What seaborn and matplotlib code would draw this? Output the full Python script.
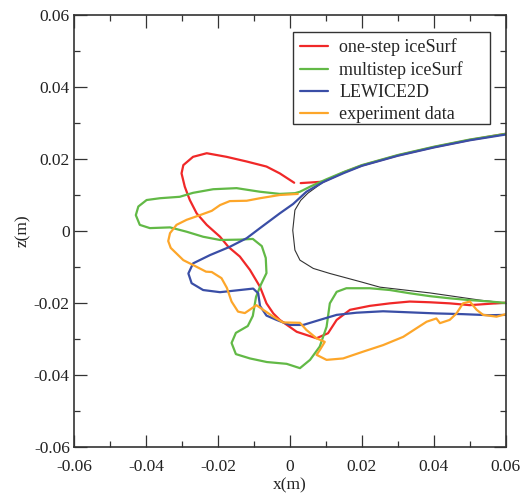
import matplotlib
matplotlib.use("Agg")
import matplotlib.pyplot as plt
from matplotlib.ticker import MultipleLocator
from matplotlib.patches import Rectangle
import pandas as pd
import seaborn as sns

# ---- clean airfoil (leading-edge region), upper TE -> LE -> lower TE ----
airfoil_x = [0.0600, 0.0500, 0.0400, 0.0300, 0.0200, 0.0150, 0.0093, 0.0050, 0.0030, 0.0014, 0.0008,
             0.0014, 0.0028, 0.0065, 0.0111, 0.0200, 0.0250, 0.0389, 0.0528, 0.0600]
airfoil_z = [0.0270, 0.0253, 0.0233, 0.0210, 0.0181, 0.0162, 0.0136, 0.0105, 0.0085, 0.0058, 0.0002,
             -0.0053, -0.0081, -0.0104, -0.0118, -0.0142, -0.0156, -0.0172, -0.0192, -0.0200]

# ---- one-step iceSurf (two pieces: surface run and horn) ----
onestep_seg = [0] * 8 + [1] * 33
onestep_x = [0.0600, 0.0500, 0.0400, 0.0300, 0.0200, 0.0150, 0.0093, 0.0030,
             0.0012, -0.0028, -0.0065, -0.0120, -0.0176, -0.0231, -0.0269, -0.0296, -0.0301,
             -0.0292, -0.0278, -0.0259, -0.0231, -0.0194, -0.0171, -0.0139, -0.0111, -0.0083,
             -0.0065, -0.0046, -0.0028, 0.0019, 0.0074, 0.0106, 0.0130, 0.0167, 0.0222,
             0.0278, 0.0333, 0.0389, 0.0444, 0.0500, 0.0600]
onestep_z = [0.0270, 0.0253, 0.0233, 0.0210, 0.0182, 0.0163, 0.0137, 0.0133,
             0.0134, 0.0160, 0.0179, 0.0193, 0.0206, 0.0216, 0.0206, 0.0183, 0.0160,
             0.0123, 0.0086, 0.0049, 0.0017, -0.0016, -0.0044, -0.0071, -0.0108, -0.0155,
             -0.0201, -0.0229, -0.0247, -0.0280, -0.0298, -0.0284, -0.0247, -0.0219, -0.0208,
             -0.0201, -0.0196, -0.0198, -0.0201, -0.0206, -0.0199]

# ---- multistep iceSurf ----
multistep_x = [0.0600, 0.0500, 0.0400, 0.0300, 0.0200, 0.0150, 0.0100, 0.0056, 0.0028, 0.0014,
               -0.0028, -0.0083, -0.0148, -0.0213, -0.0269, -0.0306, -0.0361, -0.0398, -0.0421,
               -0.0428, -0.0417, -0.0389, -0.0333, -0.0287, -0.0241, -0.0194, -0.0139, -0.0103,
               -0.0078, -0.0067, -0.0065, -0.0081, -0.0094, -0.0103, -0.0117, -0.0150, -0.0162,
               -0.0150, -0.0111, -0.0064, -0.0009, 0.0028, 0.0056, 0.0083, 0.0102, 0.0111,
               0.0130, 0.0157, 0.0222, 0.0278, 0.0333, 0.0389, 0.0444, 0.0500, 0.0556, 0.0600]
multistep_z = [0.0270, 0.0254, 0.0234, 0.0211, 0.0183, 0.0164, 0.0143, 0.0123, 0.0109, 0.0105,
               0.0103, 0.0109, 0.0119, 0.0116, 0.0106, 0.0095, 0.0091, 0.0086, 0.0068,
               0.0044, 0.0017, 0.0008, 0.0010, -0.0002, -0.0016, -0.0025, -0.0024, -0.0022,
               -0.0042, -0.0075, -0.0117, -0.0150, -0.0183, -0.0236, -0.0264, -0.0283, -0.0311,
               -0.0342, -0.0354, -0.0364, -0.0369, -0.0381, -0.0358, -0.0321, -0.0266, -0.0201,
               -0.0169, -0.0159, -0.0159, -0.0164, -0.0173, -0.0181, -0.0187, -0.0192, -0.0196, -0.0200]

# ---- LEWICE2D ----
lewice_x = [0.0600, 0.0500, 0.0400, 0.0300, 0.0200, 0.0150, 0.0093, 0.0046, 0.0009, -0.0028,
            -0.0083, -0.0120, -0.0167, -0.0222, -0.0269, -0.0282, -0.0273, -0.0241, -0.0194,
            -0.0148, -0.0102, -0.0088, -0.0083, -0.0065, -0.0037, 0.0000, 0.0037, 0.0083,
            0.0130, 0.0185, 0.0259, 0.0333, 0.0407, 0.0481, 0.0556, 0.0600]
lewice_z = [0.0268, 0.0252, 0.0232, 0.0209, 0.0181, 0.0161, 0.0136, 0.0109, 0.0075, 0.0049,
            0.0008, -0.0020, -0.0044, -0.0067, -0.0090, -0.0118, -0.0145, -0.0164, -0.0170,
            -0.0165, -0.0160, -0.0173, -0.0208, -0.0235, -0.0247, -0.0261, -0.0261, -0.0247,
            -0.0233, -0.0227, -0.0223, -0.0226, -0.0229, -0.0231, -0.0234, -0.0233]

# ---- experiment data ----
experiment_x = [0.0022, -0.0028, -0.0083, -0.0120, -0.0167, -0.0194, -0.0217, -0.0250, -0.0287,
                -0.0315, -0.0333, -0.0338, -0.0331, -0.0296, -0.0264, -0.0233, -0.0217, -0.0190,
                -0.0175, -0.0162, -0.0144, -0.0125, -0.0093, -0.0074, -0.0046, -0.0019, 0.0028,
                0.0046, 0.0074, 0.0097, 0.0083, 0.0074, 0.0102, 0.0148, 0.0204, 0.0259, 0.0315,
                0.0352, 0.0380, 0.0407, 0.0417, 0.0444, 0.0463, 0.0481, 0.0500, 0.0519, 0.0537,
                0.0574, 0.0600]
experiment_z = [0.0103, 0.0100, 0.0091, 0.0084, 0.0083, 0.0072, 0.0056, 0.0044, 0.0031,
                0.0017, -0.0006, -0.0028, -0.0047, -0.0081, -0.0097, -0.0113, -0.0114, -0.0131,
                -0.0158, -0.0196, -0.0224, -0.0228, -0.0206, -0.0219, -0.0238, -0.0254, -0.0255,
                -0.0275, -0.0298, -0.0308, -0.0331, -0.0344, -0.0358, -0.0354, -0.0335, -0.0317, -0.0294,
                -0.0270, -0.0252, -0.0243, -0.0256, -0.0247, -0.0229, -0.0201, -0.0196, -0.0219, -0.0233,
                -0.0238, -0.0231]

series_names = ["one-step iceSurf", "multistep iceSurf", "LEWICE2D", "experiment data"]
series_colors = ["#f02828", "#62b946", "#3a4ea6", "#fda62a"]
tick_values = [-0.06, -0.04, -0.02, 0, 0.02, 0.04, 0.06]

sns.set_theme(style="white")
plt.rcParams["font.family"] = ["Liberation Serif", "DejaVu Serif"]
plt.rcParams["axes.unicode_minus"] = False

fig = plt.figure(figsize=(5.28, 4.96), dpi=100)
ax = fig.add_axes([0.140, 0.0988, 0.818, 0.871])

airfoil = pd.DataFrame({"x": airfoil_x, "z": airfoil_z})
sns.lineplot(data=airfoil, x="x", y="z", sort=False, estimator=None, color="#333333",
             linewidth=0.8, ax=ax, legend=False)

frames = [
    pd.DataFrame({"x": onestep_x, "z": onestep_z, "seg": onestep_seg}),
    pd.DataFrame({"x": multistep_x, "z": multistep_z, "seg": 0}),
    pd.DataFrame({"x": lewice_x, "z": lewice_z, "seg": 0}),
    pd.DataFrame({"x": experiment_x, "z": experiment_z, "seg": 0}),
]
handles = []
for name, color, df in zip(series_names, series_colors, frames):
    sns.lineplot(data=df, x="x", y="z", units="seg", sort=False, estimator=None,
                 color=color, linewidth=1.6, ax=ax, legend=False)
    handles.append(plt.Line2D([], [], color=color, linewidth=1.6, label=name))

ax.set_xlim(-0.06, 0.06)
ax.set_ylim(-0.06, 0.06)
ax.set_xticks(tick_values)
ax.set_yticks(tick_values)
ax.xaxis.set_minor_locator(MultipleLocator(0.01))
ax.yaxis.set_minor_locator(MultipleLocator(0.01))


def fmt(v, pos=None):
    return "0" if abs(v) < 1e-12 else f"{v:.2f}"


ax.xaxis.set_major_formatter(plt.FuncFormatter(fmt))
ax.yaxis.set_major_formatter(plt.FuncFormatter(fmt))

ax.tick_params(which="both", direction="in", top=True, right=True, bottom=True, left=True,
               colors="#333333", labelcolor="#222222", labelsize=12.5, width=0.9)
ax.tick_params(which="major", length=9)
ax.tick_params(axis="x", which="major", pad=9)
ax.tick_params(axis="y", which="major", pad=3)
ax.tick_params(which="minor", length=4.5)
for s in ax.spines.values():
    s.set_color("#333333")
    s.set_linewidth(1.2)

ax.set_xlabel("x(m)", fontsize=12.5, labelpad=1.5, color="#222222")
ax.set_ylabel("z(m)", fontsize=12.5, labelpad=2, color="#222222")

# legend box, drawn as a plain rectangle with the entries placed inside
ax.add_patch(Rectangle((0.507, 0.7477), 0.456, 0.213, transform=ax.transAxes,
                       facecolor="white", edgecolor="#333333", linewidth=1.0, zorder=5))
leg = ax.legend(handles=handles, loc="upper left", bbox_to_anchor=(0.512, 0.958),
                fontsize=13, frameon=False,
                handlelength=1.55, handletextpad=0.6, labelspacing=0.28, borderpad=0.3,
                borderaxespad=0)
leg.set_zorder(6)

fig.savefig("out.png", dpi=100)
